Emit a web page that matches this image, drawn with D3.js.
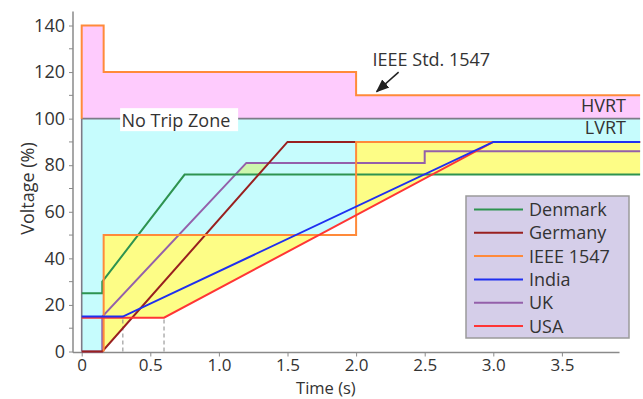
<!DOCTYPE html>
<html>
<head>
<meta charset="utf-8">
<script src="https://cdn.jsdelivr.net/npm/d3@7"></script>
<style>
  body { margin: 0; background: #fff; }
  text { font-family: "Open Sans", sans-serif; fill: #333; }
</style>
</head>
<body>
<svg id="chart" width="643" height="399"></svg>
<script>
// ride-through curves, [time (s), voltage (%)]
const denmark = [[0, 25], [0.15, 25], [0.15, 30], [0.75, 76], [4.07, 76]];
const germany = [[0, 0], [0.15, 0], [1.5, 90], [4.07, 90]];
const ieeeLow = [[0.16, 0], [0.16, 50], [2, 50], [2, 90], [4.07, 90]];
const ieeeHigh = [[0, 100], [0, 140], [0.16, 140], [0.16, 120], [2, 120], [2, 110], [4.07, 110]];
const india = [[0, 15], [0.3, 15], [3, 90], [4.07, 90]];
const uk = [[0, 0], [0.15, 0], [0.15, 15], [1.2, 81], [2.5, 81], [2.5, 86], [4.07, 86]];
const usa = [[0, 14.5], [0.6, 14.5], [3, 90], [4.07, 90]];
const noTrip = [[0, 0], [0, 100], [4.07, 100]];
const dashTimes = [0.3, 0.6];

const legendNames = ["Denmark", "Germany", "IEEE 1547", "India", "UK", "USA"];
const legendColors = ["#2e9350", "#99201f", "#ff8a3a", "#1f2ff0", "#9460aa", "#ff3535"];

const xTicks = [0, 0.5, 1, 1.5, 2, 2.5, 3, 3.5];
const yTicks = [0, 20, 40, 60, 80, 100, 120, 140];
const yMinor = [10, 30, 50, 70, 90, 110, 130];

const svg = d3.select("#chart");

var x = d3.scaleLinear().domain([0, 4]).range([81.7, 630.5]);
var y = d3.scaleLinear().domain([0, 140]).range([351.5, 25.5]);
const axisX = 73, tEnd = 4.07;

// value of a piecewise linear curve at time t
function valueAt(pts, t) {
  if (t < pts[0][0]) return pts[0][1];
  for (var i = pts.length - 2; i >= 0; i--) {
    var a = pts[i], b = pts[i + 1];
    if (b[0] > a[0] && t >= a[0] && t <= b[0]) {
      return a[1] + (b[1] - a[1]) * (t - a[0]) / (b[0] - a[0]);
    }
  }
  return pts[pts.length - 1][1];
}
const countries = [denmark, germany, india, uk, usa];
const grid = d3.range(0, tEnd + 1e-9, 0.002);
const lowest = t => d3.min(countries, c => valueAt(c, t));
const ieeeLowAt = t => t < 0.16 ? 0 : valueAt(ieeeLow, t);

// zones
svg.append("path")
  .datum(grid)
  .attr("fill", "#c6fcfd")
  .attr("d", d3.area().x(t => x(t)).y0(t => y(lowest(t))).y1(y(100)));

svg.append("path")
  .datum(grid)
  .attr("fill", "#fdfd86")
  .attr("d", d3.area().x(t => x(t)).y0(t => y(lowest(t)))
    .y1(t => y(Math.max(lowest(t), ieeeLowAt(t)))));

const ukOver = t => valueAt(uk, t) > Math.max(valueAt(denmark, t), valueAt(germany, t)) + 0.2;
svg.append("path")
  .datum(grid)
  .attr("fill", "#cdf7ad")
  .attr("d", d3.area().defined(ukOver).x(t => x(t))
    .y0(t => y(Math.max(valueAt(denmark, t), valueAt(germany, t))))
    .y1(t => y(valueAt(uk, t))));

svg.append("path")
  .datum(ieeeHigh)
  .attr("fill", "#fecbfd")
  .attr("d", d3.area().x(d => x(d[0])).y0(y(100)).y1(d => y(d[1])));

// dashed guides
svg.selectAll(".guide")
  .data(dashTimes)
  .enter()
  .append("line")
  .attr("class", "guide")
  .attr("x1", d => x(d)).attr("x2", d => x(d))
  .attr("y1", y(0)).attr("y2", y(14.5))
  .attr("stroke", "#888")
  .attr("stroke-width", 1)
  .attr("stroke-dasharray", "4,3");

var line = d3.line().x(d => x(d[0])).y(d => y(d[1]));

svg.append("path")
  .datum(noTrip)
  .attr("fill", "none")
  .attr("stroke", "#7d7b87")
  .attr("stroke-width", 1.6)
  .attr("d", line);

// axes
var gY = svg.append("g").attr("transform", "translate(" + axisX + ",0)");
gY.append("line").attr("y1", y(0) + 1).attr("y2", y(146)).attr("stroke", "#8a8a8a").attr("stroke-width", 1.5);
gY.call(d3.axisLeft(y).tickValues(yTicks).tickSize(4).tickPadding(4));
gY.selectAll(".minor")
  .data(yMinor)
  .enter()
  .append("line")
  .attr("class", "minor")
  .attr("x1", -4).attr("x2", 0)
  .attr("y1", d => y(d)).attr("y2", d => y(d))
  .attr("stroke", "#8a8a8a");

var gX = svg.append("g").attr("transform", "translate(0," + (y(0) + 1) + ")");
gX.append("line").attr("x1", axisX).attr("x2", x(3.92)).attr("stroke", "#8a8a8a").attr("stroke-width", 1.5);
gX.call(d3.axisBottom(x).tickValues(xTicks).tickSize(4).tickPadding(2)
  .tickFormat(d => d === 0 ? "0" : d.toFixed(1)));

svg.selectAll(".domain").remove();
svg.selectAll(".tick line").attr("stroke", "#8a8a8a");
gY.selectAll(".tick text").style("font-size", "18px");
gX.selectAll(".tick text").style("font-size", "17px");
svg.selectAll(".tick text").style("font-family", "'Open Sans', sans-serif").attr("fill", "#333");

// curves, drawn back to front
const drawOrder = [["UK", uk], ["Denmark", denmark], ["Germany", germany], ["IEEE 1547", ieeeLow],
  ["IEEE 1547", ieeeHigh], ["USA", usa], ["India", india]];
drawOrder.forEach(function(s) {
  svg.append("path")
    .datum(s[1])
    .attr("fill", "none")
    .attr("stroke", legendColors[legendNames.indexOf(s[0])])
    .attr("stroke-width", 2)
    .attr("stroke-linejoin", "miter")
    .attr("d", line);
});

// labels
svg.append("text")
  .attr("transform", "translate(34," + y(70) + ") rotate(-90)")
  .attr("text-anchor", "middle")
  .style("font-size", "18px")
  .text("Voltage (%)");

svg.append("text")
  .attr("x", x(1.78)).attr("y", 393.8)
  .attr("text-anchor", "middle")
  .style("font-size", "16.5px")
  .text("Time (s)");

var ntz = svg.append("g");
ntz.append("rect")
  .attr("x", x(0.28)).attr("y", y(104.5))
  .attr("width", 118).attr("height", 23)
  .attr("fill", "#fff");
ntz.append("text")
  .attr("x", x(0.29)).attr("y", y(96.5))
  .style("font-size", "18px")
  .text("No Trip Zone");

svg.append("text")
  .attr("x", 626).attr("y", y(102.7))
  .attr("text-anchor", "end")
  .style("font-size", "18px")
  .text("HVRT");
svg.append("text")
  .attr("x", 626).attr("y", y(93.3))
  .attr("text-anchor", "end")
  .style("font-size", "18px")
  .text("LVRT");

svg.append("text")
  .attr("x", x(2.12)).attr("y", y(122.8))
  .style("font-size", "18px")
  .text("IEEE Std. 1547");

svg.append("defs").append("marker")
  .attr("id", "head")
  .attr("viewBox", "0 0 10 10")
  .attr("refX", 9).attr("refY", 5)
  .attr("markerWidth", 9).attr("markerHeight", 9)
  .attr("orient", "auto")
  .append("path")
  .attr("d", "M0,1L10,5L0,9Z")
  .attr("fill", "#222");
svg.append("line")
  .attr("x1", x(2.31)).attr("y1", y(120))
  .attr("x2", x(2.15)).attr("y2", y(111.6))
  .attr("stroke", "#222")
  .attr("stroke-width", 1.5)
  .attr("marker-end", "url(#head)");

// legend
var legend = svg.append("g").attr("transform", "translate(466,196)");
legend.append("rect")
  .attr("width", 163).attr("height", 142)
  .attr("fill", "#d5cee9")
  .attr("stroke", "#9a9a9a")
  .attr("stroke-width", 1.5);
var rows = legend.selectAll(".row")
  .data(legendNames)
  .enter()
  .append("g")
  .attr("transform", (d, i) => "translate(0," + (13.5 + i * 23.3) + ")");
rows.append("line")
  .attr("x1", 8).attr("x2", 57)
  .attr("stroke", (d, i) => legendColors[i])
  .attr("stroke-width", 2);
rows.append("text")
  .attr("x", 63).attr("y", 6.5)
  .style("font-size", "18px")
  .text(d => d);
</script>
</body>
</html>
